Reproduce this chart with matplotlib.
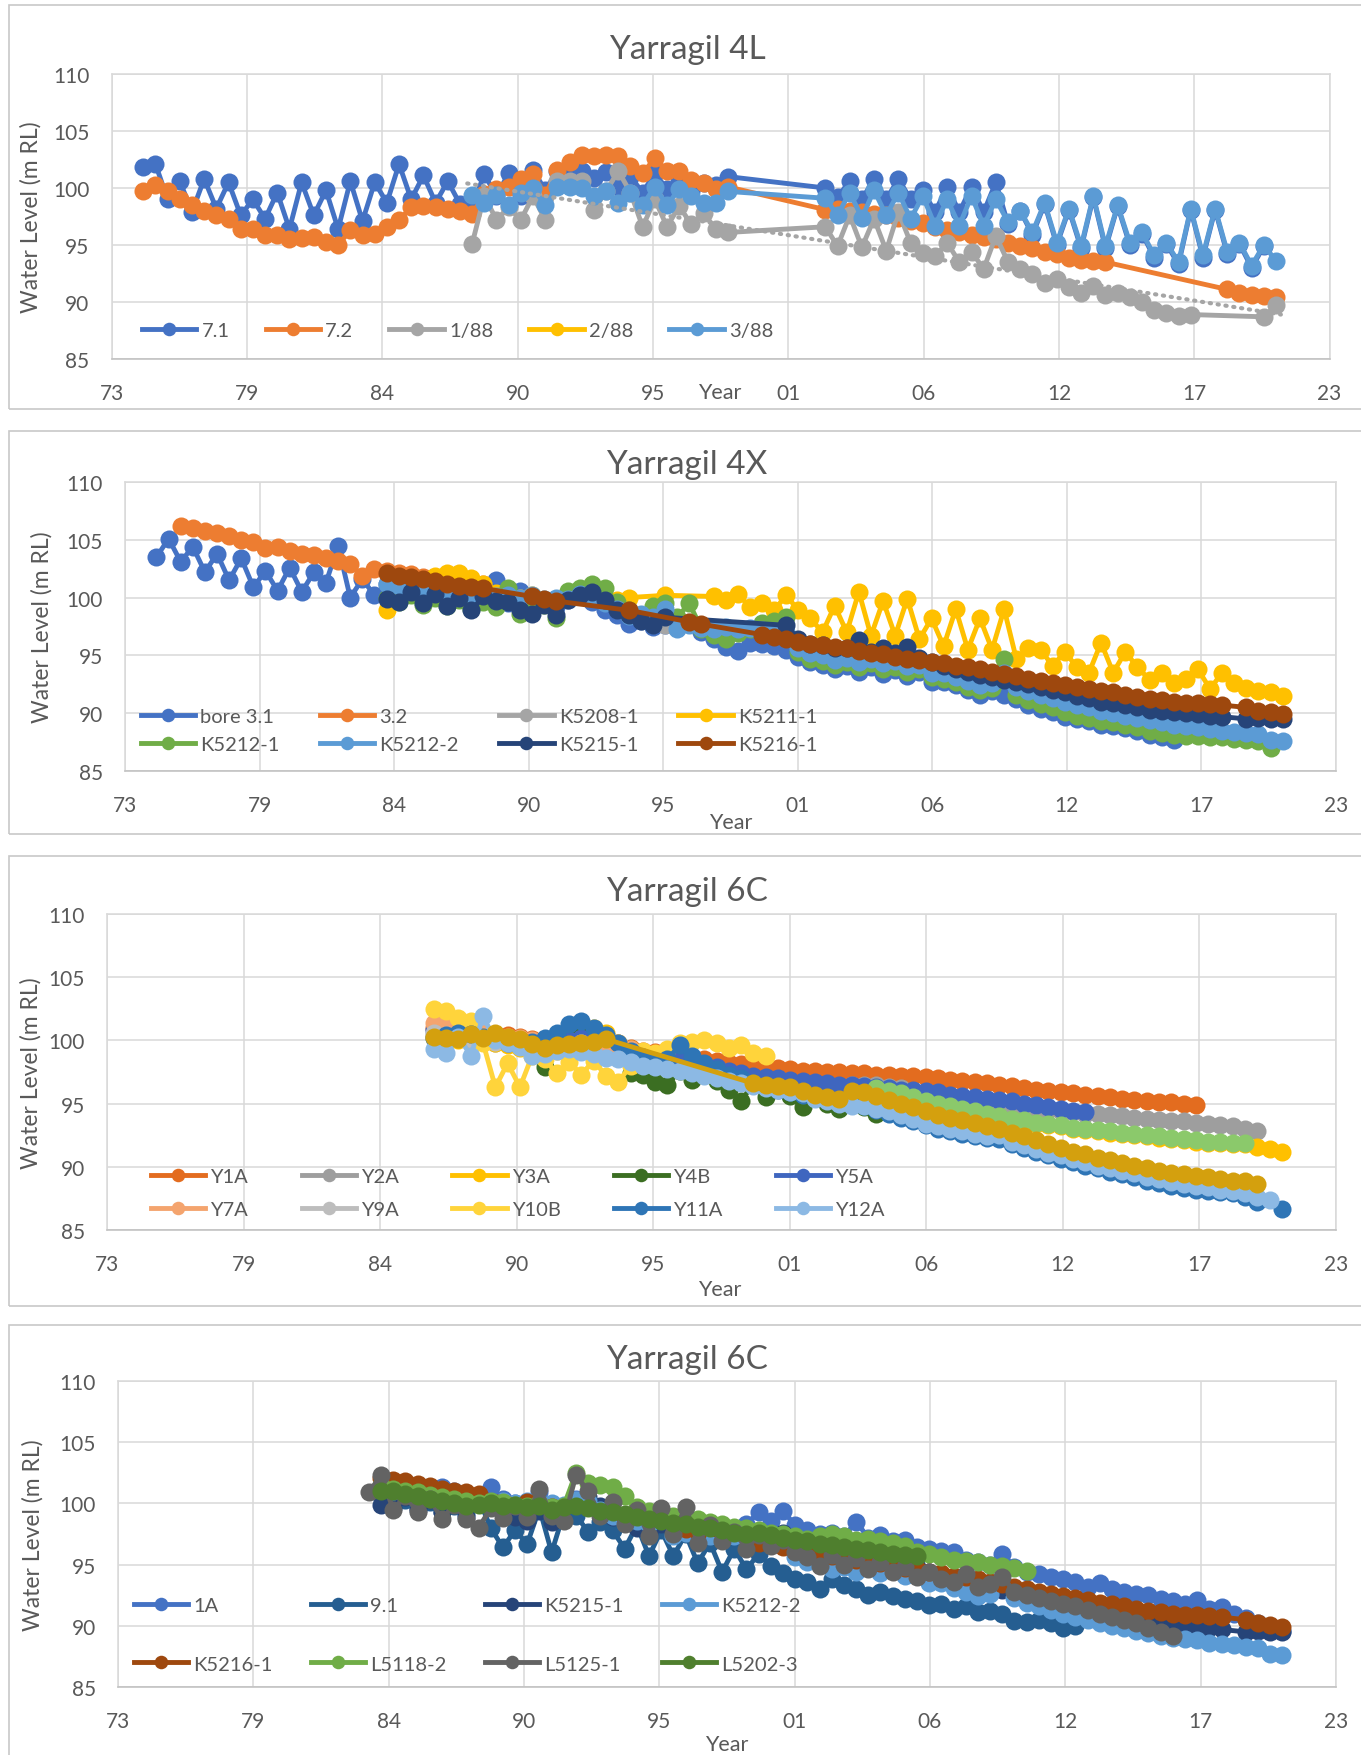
import numpy as np
import matplotlib
matplotlib.use('Agg')
import matplotlib.pyplot as plt
from matplotlib.patches import Rectangle

plt.rcParams['font.family'] = ['Lato', 'DejaVu Sans']

W, H = 1361, 1756
TXT = '#595959'

# ----- datos: lecturas semestrales (aprox. otoño / primavera) -----

half_years = [
    1974.8,
    1975.3, 1975.8, 1976.3, 1976.8, 1977.3, 1977.8, 1978.3, 1978.8, 1979.3, 1979.8,
    1980.3, 1980.8, 1981.3, 1981.8, 1982.3, 1982.8, 1983.3, 1983.8, 1984.3, 1984.8,
    1985.3, 1985.8, 1986.3, 1986.8, 1987.3, 1987.8, 1988.3, 1988.8, 1989.3, 1989.8,
    1990.3, 1990.8, 1991.3, 1991.8, 1992.3, 1992.8, 1993.3, 1993.8, 1994.3, 1994.8,
    1995.3, 1995.8, 1996.3, 1996.8, 1997.3, 1997.8, 1998.3, 1998.8, 1999.3, 1999.8,
    2000.3, 2000.8, 2001.3, 2001.8, 2002.3, 2002.8, 2003.3, 2003.8, 2004.3, 2004.8,
    2005.3, 2005.8, 2006.3, 2006.8, 2007.3, 2007.8, 2008.3, 2008.8, 2009.3, 2009.8,
    2010.3, 2010.8, 2011.3, 2011.8, 2012.3, 2012.8, 2013.3, 2013.8, 2014.3, 2014.8,
    2015.3, 2015.8, 2016.3, 2016.8, 2017.3, 2017.8, 2018.3, 2018.8, 2019.3, 2019.8,
    2020.3, 2020.8, 2021.3, 2021.8,
]

x_tick_labels = ['73', '79', '84', '90', '95', '01', '06', '12', '17', '23']
y_ticks = [85, 90, 95, 100, 105, 110]

# --- Yarragil 4L ---
w7_1 = (1974.8, [101.8,
    102.1, 99.0, 100.6, 97.9, 100.8, 98.2, 100.5, 97.6, 99.0, 97.3,
    99.6, 96.4, 100.5, 97.6, 99.8, 96.4, 100.6, 97.1, 100.5, 98.7,
    102.1, 99.0, 101.1, 98.7, 100.6, 98.6, 98.4, 101.2, 99.3, 101.3,
    99.3, 101.6, 99.8, 101.5, 101.3, 101.5, 100.9, 101.4, 100.1, 101.0,
    99.6, 101.3, 99.9, 100.6, 99.7, 100.4, 100.3, 101.0, None, None,
    None, None, None, None, None, 100.0, 99.2, 100.6, 99.0, 100.8,
    99.0, 100.8, 99.0, 99.8, 97.9, 100.1, 97.9, 100.1, 97.9, 100.5,
    96.8, 98.0, 95.9, 98.6, 95.0, 98.1, 94.7, 99.2, 94.7, 98.4,
    95.0, 96.0, 93.9, 95.1, 93.3, 98.1, 93.9, 98.1, 94.2, 95.1,
    93.0, 94.9])
w7_2 = (1974.8, [99.7,
    100.3, 99.7, 99.0, 98.5, 98.0, 97.6, 97.3, 96.4, 96.4, 95.9,
    95.9, 95.5, 95.6, 95.7, 95.3, 95.0, 96.3, 95.9, 96.0, 96.6,
    97.2, 98.3, 98.4, 98.3, 98.2, 98.0, 97.7, 99.5, 99.9, 100.1,
    100.8, 101.2, 99.4, 101.6, 102.3, 102.9, 102.8, 102.9, 102.8, 101.9,
    101.3, 102.6, 101.5, 101.5, 100.7, 100.4, 99.9, 100.1, None, None,
    None, None, None, None, None, 98.1, 98.2, 98.0, 97.9, 97.7,
    97.6, 97.4, 97.1, 96.9, 96.6, 96.3, 96.1, 95.9, 95.7, 95.5,
    95.2, 94.9, 94.7, 94.4, 94.2, 93.9, 93.7, 93.6, 93.5, None,
    None, None, None, None, None, None, None, None, 91.1, 90.8,
    90.6, 90.5, 90.4])
w1_88 = (1988.3, [95.1, 99.3, 97.2, 98.3,
    97.2, 99.3, 97.2, 100.6, 100.6, 100.6, 98.1, 99.7, 101.5, 99.6,
    96.6, 99.0, 96.6, 98.4, 96.8, 97.8, 96.4, 96.1, None, None,
    None, None, None, None, None, 96.6, 94.9, 97.6, 94.8, 97.3,
    94.5, 97.9, 95.2, 94.3, 94.0, 95.2, 93.5, 94.4, 92.9, 95.8,
    93.5, 92.9, 92.5, 91.7, 92.0, 91.3, 90.8, 91.4, 90.6, 90.8,
    90.4, 90.0, 89.3, 89.0, 88.8, 88.9, None, None, None, None,
    None, 88.7, 89.7])
w2_88 = (None, [])
w3_88 = (1988.3, [99.4, 98.7, 99.4, 98.5,
    99.6, 100.0, 98.5, 100.1, 100.1, 100.0, 99.3, 99.7, 98.7, 99.6,
    98.5, 100.1, 98.5, 99.9, 99.3, 98.7, 98.7, 99.7, None, None,
    None, None, None, None, None, 99.1, 97.6, 99.6, 97.4, 99.8,
    97.6, 99.6, 97.3, 99.3, 96.7, 99.0, 96.7, 99.3, 96.7, 99.0,
    97.0, 98.0, 96.1, 98.7, 95.2, 98.2, 94.9, 99.3, 94.9, 98.5,
    95.2, 96.1, 94.1, 95.2, 93.5, 98.2, 94.1, 98.2, 94.4, 95.2,
    93.2, 95.0, 93.6])
trend_1_88_years = [1988.1, 2021.5]
trend_1_88_levels = [100.4, 88.9]

# --- Yarragil 4X ---
b3_1 = (1974.8, [103.5,
    105.1, 103.1, 104.4, 102.2, 103.8, 101.5, 103.4, 100.9, 102.3, 100.6,
    102.6, 100.5, 102.2, 101.3, 104.5, 100.0, 101.6, 100.2, 101.2, 100.4,
    101.0, 100.2, 100.8, 100.0, 100.6, 99.8, 100.5, 101.5, 99.5, 100.6,
    99.0, 99.6, 99.2, 99.8, 100.3, 99.6, 98.9, 98.5, 97.7, 98.0,
    97.5, 97.6, 97.4, 97.8, 97.0, 96.4, 95.7, 95.4, 96.1, 96.0,
    95.8, 95.5, 94.9, 94.4, 94.2, 93.8, 94.1, 93.6, 94.0, 93.4,
    93.7, 93.2, 93.6, 92.7, 92.7, 92.4, 92.0, 91.6, 91.9, 91.6,
    91.2, 90.7, 90.4, 90.1, 89.7, 89.5, 89.3, 89.0, 88.9, 88.7,
    88.5, 88.1, 87.9, 87.7])
b3_2 = (1975.8, [106.2, 106.0, 105.8, 105.6, 105.3, 105.0, 104.8, 104.3, 104.4,
    104.0, 103.8, 103.7, 103.4, 103.2, 102.9, 101.9, 102.5, 102.3, 102.1,
    102.0, 101.8, 101.8, 101.6, 101.5, 101.3, 101.2])
k5208_1 = (1995.3, [97.8, 97.6, 97.7, 97.9])
k5211_1 = (1984.3, [98.9, 100.0,
    101.0, 101.5, 101.9, 102.1, 102.1, 101.7, 101.2, 100.4, 99.9, 100.0,
    100.2, None, None, None, None, None, None, 99.8, 100.0, None,
    None, 100.2, None, None, None, 100.1, 99.8, 100.3, 99.2, 99.5,
    98.9, 100.2, 98.9, 98.2, 97.0, 99.3, 97.0, 100.5, 96.7, 99.7,
    96.7, 99.9, 96.4, 98.2, 95.8, 99.0, 95.5, 98.2, 95.5, 99.0,
    94.7, 95.6, 95.5, 94.1, 95.3, 94.0, 93.5, 96.1, 93.5, 95.3,
    94.0, 92.9, 93.5, 92.6, 93.0, 93.8, 92.1, 93.5, 92.6, 92.2,
    91.9, 91.8, 91.5])
k5212_1 = (1984.3, [100.0, 99.6,
    100.2, 99.4, 100.0, 99.3, 99.8, 99.0, 99.6, 99.2, 100.8, 98.6,
    99.3, 99.4, 98.2, 100.6, 100.8, 101.2, 100.8, 99.6, 98.9, 98.5,
    99.3, 99.5, 98.3, 99.5, 97.3, 96.8, 96.4, 96.9, 97.3, 97.8,
    98.0, 98.3, 95.3, 94.7, 94.5, 94.2, 94.4, 94.0, 94.3, 93.8,
    94.0, 93.6, 93.8, 93.1, 93.0, 92.7, 92.3, 92.0, 92.2, 94.7,
    91.6, 91.1, 90.8, 90.5, 90.1, 89.8, 89.6, 89.3, 89.2, 89.0,
    88.8, 88.5, 88.3, 88.1, 88.0, 88.0, 87.9, 87.9, 87.8, 87.7,
    87.6, 87.0])
k5212_2 = (1984.3, [101.2, 101.0,
    100.9, 100.7, 100.6, 100.5, 100.4, 100.3, 100.2, 100.1, 100.2, 100.0,
    100.2, 99.9, 100.0, 99.9, 100.3, 100.2, 99.5, 99.0, 98.4, 98.6,
    98.3, 99.0, 97.3, 97.6, 97.4, 97.3, 97.5, 97.3, 97.4, 97.2,
    97.1, 97.0, 95.6, 95.2, 95.0, 94.6, 94.8, 94.4, 94.7, 94.3,
    94.5, 94.1, 94.2, 93.5, 93.5, 93.1, 92.8, 92.4, 92.6, 93.5,
    92.3, 91.9, 91.6, 91.3, 91.0, 90.7, 90.5, 90.2, 90.0, 89.8,
    89.6, 89.4, 89.2, 89.0, 88.9, 88.8, 88.6, 88.5, 88.4, 88.3,
    88.2, 87.7, 87.6])
k5215_1 = (1984.3, [99.9, 99.6,
    100.5, 99.5, 100.3, 99.3, 100.0, 98.9, 100.1, 99.7, 99.6, 98.9,
    98.6, 99.4, 98.5, 99.8, 100.2, 100.5, 99.8, 98.9, 98.5, 98.0,
    97.6, 98.3, None, None, None, None, None, None, None, None,
    None, 97.6, 96.4, 96.0, 95.9, 95.6, 95.6, 96.3, 95.3, 95.6,
    95.2, 95.7, 94.8, 94.4, 94.1, 93.8, 93.6, 93.3, 93.1, 92.9,
    92.7, 92.5, 92.3, 92.0, 91.8, 91.5, 91.3, 91.0, 90.9, 90.7,
    90.5, 90.3, 90.2, 90.1, 90.0, 89.9, 89.8, 89.7, None, 89.5,
    89.6, 89.5, 89.5])
k5216_1 = (1984.3, [102.1, 101.9,
    101.8, 101.6, 101.4, 101.2, 101.0, 100.9, 100.8, None, None, None,
    100.1, 99.9, 99.7, None, None, None, None, None, 98.9, None,
    None, None, None, 97.9, 97.7, None, None, None, None, 96.8,
    96.6, 96.4, 96.2, 96.0, 95.9, 95.7, 95.6, 95.4, 95.2, 95.1,
    94.9, 94.7, 94.6, 94.4, 94.3, 94.1, 94.0, 93.8, 93.6, 93.4,
    93.2, 93.0, 92.8, 92.6, 92.4, 92.3, 92.1, 91.9, 91.8, 91.6,
    91.4, 91.2, 91.1, 91.0, 90.9, 90.9, 90.8, 90.7, None, 90.5,
    90.2, 90.1, 89.9])

# --- Yarragil 6C (bores Y) ---
y1a = (1986.8, [101.0, 100.9, 100.8, 100.7, 100.6, 100.5, 100.4,
    100.3, 100.1, 99.9, 99.8, 99.7, 99.6, 99.8, 99.9, 99.8, 99.4,
    99.2, 99.1, 98.9, 98.8, 98.6, 98.5, 98.4, 98.2, 98.1, 98.0,
    97.9, 97.8, 97.7, 97.6, 97.6, 97.5, 97.5, 97.4, 97.4, 97.3,
    97.3, 97.2, 97.2, 97.1, 97.0, 96.9, 96.8, 96.7, 96.6, 96.5,
    96.4, 96.2, 96.1, 96.0, 95.9, 95.8, 95.7, 95.6, 95.5, 95.4,
    95.3, 95.2, 95.1, 95.1, 95.0, 94.9])
y2a = (1986.8, [100.4, 100.3, 100.2, 100.0, 99.9, 99.8, 99.7,
    99.5, 99.2, 99.1, 99.3, 100.2, 100.6, 100.6, 100.2, 99.4, 98.7,
    98.5, 98.4, 98.3, 98.1, 97.9, 97.7, 97.4, 97.1, 96.9, 96.7,
    96.6, 96.5, 96.4, 96.4, 96.3, 96.3, 96.4, 96.5, 96.5, 96.5,
    96.3, 96.2, 96.0, 95.8, 95.6, 95.4, 95.3, 95.1, 95.0, 94.9,
    94.8, 94.7, 94.6, 94.5, 94.4, 94.3, 94.2, 94.2, 94.1, 94.0,
    93.9, 93.8, 93.7, 93.6, 93.6, 93.5, 93.4, 93.3, 93.2, 93.0,
    92.8])
y3a = (1986.8, [100.2, 100.1, 100.0, 100.0, 99.9, 99.8, 99.6,
    99.4, 99.2, 99.0, 99.2, 100.4, 100.8, 101.0, 100.6, 99.8, 99.3,
    98.9, 98.7, 98.5, 98.4, 98.2, 98.0, 97.8, 97.5, 97.3, 97.1,
    97.0, 96.9, 96.8, 96.7, 96.6, 96.5, 96.4, 96.4, 96.3, 96.1,
    95.9, 95.7, 95.4, 95.1, 94.9, 94.7, 94.5, 94.3, 94.1, 93.9,
    93.7, 93.6, 93.4, 93.3, 93.2, 93.0, 92.9, 92.8, 92.7, 92.6,
    92.5, 92.4, 92.3, 92.2, 92.1, 92.0, 91.9, 91.9, 91.8, 91.8,
    91.6, 91.4, 91.2])
y4b = (1990.8, [99.6, 97.9, 99.4, 99.8, 100.6, 100.4, 99.6, 99.0, 97.4,
    97.3, 96.7, 96.5, 97.6, 96.9, 97.4, 96.8, 96.1, 95.2, 96.6,
    95.5, 96.2, 95.6, 94.7, 95.5, 95.0, 94.6, 95.2, 94.7, 94.2])
y5a = (1986.8, [100.8, 100.7, 100.6, 100.5, 100.4, 100.2, 100.0,
    99.9, 99.7, 99.6, 99.7, 100.0, 100.2, 100.3, 100.1, 99.6, 99.2,
    99.0, 98.8, 98.6, 98.5, 98.3, 98.1, 97.9, 97.6, 97.4, 97.2,
    97.1, 97.0, 96.9, 96.8, 96.7, 96.6, 96.5, 96.5, 96.4, 96.3,
    96.2, 96.1, 96.1, 96.0, 95.9, 95.7, 95.6, 95.5, 95.4, 95.3,
    95.2, 95.0, 94.9, 94.7, 94.6, 94.4, 94.3])
y7a = (1986.8, [101.4, 101.2, 101.0, 100.8, 100.6, 100.5, 100.3,
    100.2, 100.0, 99.8, 99.7, 99.6, 99.6, 99.7, 99.7, 99.6, 99.3])
y9a = (1986.8, [100.6, 100.4, 100.3, 100.1, 100.0, 99.9, 99.8,
    99.6, 99.4, 99.3, 99.4, 99.6, 99.8])
y10b = (1986.8, [102.5, 102.3, 101.8, 101.5, 99.8, 96.3, 98.2,
    96.3, 98.8, 98.5, 97.4, 98.3, 97.3, 98.4, 97.2, 96.7, 98.0,
    99.2, 99.0, 99.3, 99.8, 99.9, 100.0, 99.8, 99.4, 99.6, 99.0,
    98.8])
y11a = (1986.8, [100.2, 100.4, 100.6, 100.5, 100.3, 100.1, 99.8,
    99.7, 99.9, 100.2, 100.6, 101.3, 101.5, 101.0, 100.4, 99.8, 99.2,
    98.7, 98.4, 98.5, 99.6, 98.8, 98.2, 97.7, 97.3, 97.0, 96.6,
    96.3, 96.1, 95.9, 95.7, 95.5, 95.3, 95.1, 95.0, 94.8, 94.5,
    94.2, 93.9, 93.6, 93.3, 93.0, 92.8, 92.6, 92.4, 92.3, 92.2,
    91.8, 91.5, 91.2, 90.9, 90.6, 90.4, 90.1, 89.9, 89.6, 89.4,
    89.2, 88.9, 88.7, 88.5, 88.3, 88.2, 88.1, 88.0, 87.9, 87.6,
    87.2, None, 86.7])
y12a = (1986.8, [99.3, 99.0, 100.3, 98.8, 101.9, 100.0, 99.8,
    99.5, 98.8, 98.9, 99.2, 99.3, 99.1, 98.9, 98.6, 98.5, 98.3,
    98.0, 97.9, 97.7, 97.6, 97.4, 97.2, 97.0, 96.8, 96.6, 96.4,
    96.2, 96.1, 95.9, 95.8, 95.4, 95.2, 95.0, 94.8, 94.8, 94.6,
    94.4, 94.1, 93.8, 93.4, 93.2, 93.0, 92.8, 92.6, 92.4, 92.5,
    92.0, 91.7, 91.4, 91.1, 90.9, 90.6, 90.4, 90.1, 89.9, 89.7,
    89.5, 89.2, 89.0, 88.8, 88.6, 88.5, 88.4, 88.2, 88.1, 87.9,
    87.6, 87.4])
# dos series sin entrada en la leyenda
green_6c = (2004.8, [96.2,
    96.0, 95.8, 95.5, 95.2, 95.0, 94.8, 94.6, 94.4, 94.2, 94.0,
    93.8, 93.7, 93.5, 93.4, 93.3, 93.1, 93.0, 92.9, 92.8, 92.7,
    92.6, 92.5, 92.4, 92.3, 92.2, 92.1, 92.0, 92.0, 91.9, 91.9])
gold_6c = (1986.8, [100.3, 100.2, 100.1, 100.5, 100.2, 100.6, 100.3,
    100.1, 99.7, 99.4, 99.6, 99.7, 99.8, 99.9, 100.1, None, None,
    None, None, None, None, None, None, None, None, None, 96.6,
    96.5, 96.4, 96.3, 96.0, 95.7, 95.5, 95.4, 96.0, 95.9, 95.6,
    95.3, 95.0, 94.7, 94.4, 94.1, 93.9, 93.7, 93.5, 93.2, 93.0,
    92.7, 92.4, 92.1, 91.8, 91.5, 91.2, 91.0, 90.7, 90.5, 90.3,
    90.1, 89.9, 89.7, 89.5, 89.4, 89.3, 89.2, 89.0, 88.9, 88.9,
    88.6])

# --- Yarragil 6C (bores 1A, 9.1, L) ---
a1 = (1984.3, [100.6, 100.0,
    100.5, 100.2, 100.9, 101.3, 101.0, 100.8, 100.6, 101.3, 100.4, 100.0,
    99.9, 100.9, 99.5, 99.6, 100.4, 100.2, 99.7, 99.3, 98.9, 98.6,
    98.3, 98.1, 97.8, 97.7, 97.5, 97.3, 97.6, 97.8, 98.3, 99.3,
    98.6, 99.4, 98.2, 97.8, 97.5, 97.6, 97.3, 98.5, 97.2, 97.4,
    96.9, 97.0, 96.4, 96.3, 96.1, 96.0, 95.4, 95.2, 95.0, 95.9,
    94.8, 94.4, 94.2, 94.0, 93.8, 93.6, 93.2, 93.5, 93.0, 92.8,
    92.6, 92.5, 92.2, 92.0, 91.8, 92.1, 91.4, 91.5, 91.0, 90.6,
    90.2, 89.9, 89.6])
n9_1 = (1984.3, [100.8, 99.8,
    100.3, 99.6, 100.1, 99.3, 99.8, 99.1, 100.4, 98.0, 96.4, 97.8,
    96.7, 99.6, 96.0, 99.2, 99.0, 97.7, 98.5, 97.8, 96.3, 98.2,
    95.7, 97.8, 95.7, 97.5, 95.1, 96.8, 94.4, 96.3, 94.6, 95.9,
    94.9, 94.3, 93.8, 93.6, 93.0, 93.8, 93.3, 93.0, 92.5, 92.8,
    92.4, 92.2, 92.0, 91.7, 91.8, 91.4, 91.6, 91.1, 91.2, 91.0,
    90.4, 90.3, 90.5, 90.2, 89.8, 90.0])
l5118_2 = (1984.3, [101.5, 101.2,
    101.0, 100.9, 100.7, 100.5, 100.4, 100.2, 100.0, 100.2, 100.1, 99.9,
    99.8, 100.0, 99.7, 99.8, 102.5, 101.7, 101.5, 101.3, 100.6, 99.7,
    99.4, 99.2, 99.0, 98.8, 98.7, 98.5, 98.3, 98.1, 98.0, 97.8,
    97.6, 97.5, 97.3, 97.1, 97.3, 97.5, 97.3, 97.0, 97.1, 96.9,
    96.8, 96.5, 96.0, 95.9, 95.6, 95.4, 95.3, 95.2, 95.0, 94.9,
    94.7, 94.5])
l5125_1 = (1983.8, [100.9, 102.3, 99.5,
    100.6, 99.3, 100.4, 98.7, 99.9, 98.7, 98.0, 99.6, 98.8, 99.8,
    98.9, 101.2, 99.0, 98.6, 102.3, 101.0, 99.0, 100.1, 98.3, 99.5,
    97.3, 99.6, 97.5, 99.7, 96.8, 98.2, 96.9, 97.7, 96.3, 97.4,
    96.5, 97.0, 96.0, 95.6, 94.9, 95.8, 95.0, 95.5, 94.6, 95.2,
    94.4, 94.8, 94.0, 94.4, 93.8, 93.6, 94.2, 93.2, 93.4, 94.0,
    92.8, 92.5, 92.3, 92.0, 91.8, 91.6, 91.3, 91.0, 90.7, 90.5,
    90.2, 89.8, 89.5, 89.2])
l5202_3 = (1984.3, [101.0, 101.0,
    100.8, 100.6, 100.4, 100.2, 100.0, 99.8, 99.9, 100.0, 99.8, 99.9,
    99.7, 99.8, 99.5, 99.7, 99.8, 99.6, 99.4, 99.3, 99.1, 98.9,
    98.7, 98.6, 98.4, 98.3, 98.1, 98.0, 97.8, 97.6, 97.5, 97.6,
    97.4, 97.2, 97.0, 96.9, 96.7, 96.6, 96.4, 96.3, 96.2, 96.0,
    95.9, 95.8, 95.7])


# ----- funciones -----

def series(start, vals):
    if start is None:
        return [], []
    i0 = int(np.argmin(np.abs(np.array(half_years) - start)))
    n = min(len(vals), len(half_years) - i0)
    x = np.array(half_years[i0:i0 + n])
    y = np.array(vals[:n], dtype=float)
    m = ~np.isnan(y)
    return x[m], y[m]


def px_rect(l, t, r, b):
    return [l / W, 1 - b / H, (r - l) / W, (b - t) / H]


def row_major(handles, ncol):
    nrow = int(np.ceil(len(handles) / ncol))
    out = []
    for c in range(ncol):
        for r in range(nrow):
            k = r * ncol + c
            if k < len(handles):
                out.append(handles[k])
    return out


def draw_panel(fig, rect, box, title, title_y, year_xy, ylab_x, lines,
               ncol, anchor, colsp, rowsp):
    fig.patches.append(Rectangle((box[0] / W, 1 - box[3] / H),
                                 (box[2] - box[0]) / W, (box[3] - box[1]) / H,
                                 transform=fig.transFigure, fill=False,
                                 edgecolor='#C8C8C8', lw=1.2))
    ax = fig.add_axes(px_rect(*rect))
    handles = []
    for name, data, color in lines:
        x, y = series(*data)
        h, = ax.plot(x, y, '-o', color=color, lw=3.5, ms=13, mew=0,
                     solid_joinstyle='round', label=name)
        if name is not None:
            handles.append(h)
    ax.set_xlim(1973.5, 2023.5)
    ax.set_ylim(85, 110)
    ax.set_xticks(np.linspace(1973.5, 2023.5, 10))
    ax.set_xticklabels(x_tick_labels)
    ax.set_yticks(y_ticks)
    ax.tick_params(axis='both', length=0, labelsize=15, colors=TXT)
    ax.tick_params(axis='x', pad=17)
    ax.tick_params(axis='y', pad=16)
    ax.grid(True, color='#D9D9D9', lw=1.1)
    ax.set_axisbelow(True)
    for s in ax.spines.values():
        s.set_color('#D9D9D9')
        s.set_linewidth(1.1)
    ax.spines['bottom'].set_color('#BFBFBF')

    leg = ax.legend(handles=row_major(handles, ncol), ncol=ncol, loc='upper left',
                    bbox_to_anchor=anchor, frameon=False, fontsize=14.5,
                    handlelength=2.7, handletextpad=0.25, columnspacing=colsp,
                    labelspacing=rowsp, borderpad=0, borderaxespad=0,
                    markerscale=0.75)
    for t in leg.get_texts():
        t.set_color(TXT)

    fig.text(687 / W, 1 - title_y / H, title, ha='center', va='center',
             fontsize=24, color=TXT)
    fig.text(year_xy[0] / W, 1 - year_xy[1] / H, 'Year', ha='center',
             va='center', fontsize=15.5, color=TXT)
    cy = (rect[1] + rect[3]) / 2
    fig.text(ylab_x / W, 1 - cy / H, 'Water Level (m RL)', rotation=90,
             ha='center', va='center', fontsize=16.5, color=TXT)
    return ax


# ----- figura -----

fig = plt.figure(figsize=(W / 100, H / 100), dpi=100)

ax1 = draw_panel(fig, (111.6, 75, 1329.6, 360), (9, 6, 1372, 410), 'Yarragil 4L', 50,
                 (720, 393), 31,
                 [('7.1', w7_1, '#4472C4'), ('7.2', w7_2, '#ED7D31'),
                  ('1/88', w1_88, '#A5A5A5'), ('2/88', w2_88, '#FFC000'),
                  ('3/88', w3_88, '#5B9BD5')],
                 5, (0.025, 0.129), 1.8, 0.4)
ax1.plot(trend_1_88_years, trend_1_88_levels, color='#A5A5A5', lw=3,
         linestyle=(0, (0.3, 1.6)), dash_capstyle='round')

draw_panel(fig, (125, 483, 1336, 772), (9, 432, 1372, 835), 'Yarragil 4X', 465,
           (731, 823), 42,
           [('bore 3.1', b3_1, '#4472C4'), ('3.2', b3_2, '#ED7D31'),
            ('K5208-1', k5208_1, '#A5A5A5'), ('K5211-1', k5211_1, '#FFC000'),
            ('K5212-1', k5212_1, '#70AD47'), ('K5212-2', k5212_2, '#5B9BD5'),
            ('K5215-1', k5215_1, '#264478'), ('K5216-1', k5216_1, '#9E480E')],
           4, (0.0132, 0.218), 2.0, 0.55)

draw_panel(fig, (107, 915, 1336, 1231), (9, 857, 1372, 1307), 'Yarragil 6C', 892,
           (720, 1290), 31,
           [('Y1A', y1a, '#E36C1F'), ('Y2A', y2a, '#9E9E9E'),
            ('Y3A', y3a, '#FFC000'), ('Y4B', y4b, '#3B6E22'),
            ('Y5A', y5a, '#3F66BF'), ('Y7A', y7a, '#F4A46E'),
            ('Y9A', y9a, '#BDBDBD'), ('Y10B', y10b, '#FFD43B'),
            ('Y11A', y11a, '#2E75B6'), ('Y12A', y12a, '#8CB9E4'),
            (None, green_6c, '#8BC96B'), (None, gold_6c, '#D4A00E')],
           5, (0.0358, 0.196), 2.65, 0.8)

draw_panel(fig, (118, 1382, 1336, 1688), (9, 1326, 1372, 1770), 'Yarragil 6C', 1360,
           (727, 1745), 33,
           [('1A', a1, '#4472C4'), ('9.1', n9_1, '#255E91'),
            ('K5215-1', k5215_1, '#264478'), ('K5212-2', k5212_2, '#5B9BD5'),
            ('K5216-1', k5216_1, '#9E480E'), ('L5118-2', l5118_2, '#70AD47'),
            ('L5125-1', l5125_1, '#636363'), ('L5202-3', l5202_3, '#4F7F2E')],
           4, (0.0131, 0.294), 1.9, 2.05)

fig.savefig('out.png', dpi=100)
